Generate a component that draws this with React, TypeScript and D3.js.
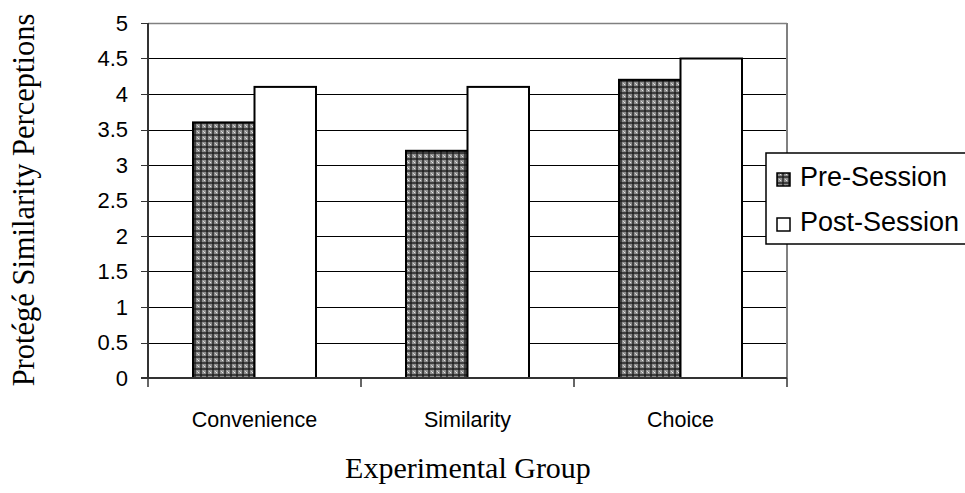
import React from "react";
import * as d3 from "d3";

const groups = ["Convenience", "Similarity", "Choice"];
const seriesNames = ["Pre-Session", "Post-Session"];
const preSession = [3.6, 3.2, 4.2];
const postSession = [4.1, 4.1, 4.5];
const yTicks = [0, 0.5, 1, 1.5, 2, 2.5, 3, 3.5, 4, 4.5, 5];

const W = 965;
const H = 493;
const plot = { left: 148, right: 787, top: 23, bottom: 378 };

export default function App() {
  const x0 = d3.scaleBand<string>().domain(groups).range([plot.left, plot.right]).paddingInner(0).paddingOuter(0);
  const y = d3.scaleLinear().domain([0, 5]).range([plot.bottom, plot.top]);
  const groupPad = 45;
  const x1 = d3
    .scaleBand<string>()
    .domain(seriesNames)
    .range([groupPad, x0.bandwidth() - groupPad])
    .padding(0);

  const values = [preSession, postSession];
  const fills = ["url(#checker)", "#ffffff"];
  const arial = "Arial, 'Liberation Sans', sans-serif";
  const times = "'Times New Roman', 'Liberation Serif', serif";

  return (
    <svg width={W} height={H} style={{ position: "absolute", left: 0, top: 0, background: "#fff" }}>
      <defs>
        <pattern id="checker" width={6} height={6} patternUnits="userSpaceOnUse">
          <rect width={6} height={6} fill="#8e8e8e" />
          <rect x={2} y={0} width={2} height={6} fill="#404040" />
          <rect x={0} y={2} width={6} height={2} fill="#404040" />
          <rect x={2} y={2} width={2} height={2} fill="#262626" />
          <rect x={0} y={0} width={1} height={1} fill="#e6e6e6" />
          <rect x={5} y={5} width={1} height={1} fill="#d0d0d0" />
        </pattern>
      </defs>

      {/* horizontal grid lines */}
      {yTicks.slice(1).map((t) => (
        <line
          key={"g" + t}
          x1={plot.left}
          x2={plot.right}
          y1={Math.round(y(t)) + 0.5}
          y2={Math.round(y(t)) + 0.5}
          stroke={t === 5 ? "#808080" : "#000"}
          strokeWidth={t === 5 ? 1.5 : 1}
        />
      ))}
      {/* right border of plot area */}
      <line x1={plot.right} x2={plot.right} y1={plot.top} y2={plot.bottom} stroke="#808080" strokeWidth={2} />

      {/* bars */}
      {groups.map((g, gi) =>
        seriesNames.map((s, si) => {
          const bx = (x0(g) as number) + (x1(s) as number);
          const by = y(values[si][gi]);
          return (
            <rect
              key={g + s}
              x={bx}
              y={by}
              width={x1.bandwidth()}
              height={plot.bottom - by}
              fill={fills[si]}
              stroke="#000"
              strokeWidth={2}
            />
          );
        })
      )}

      {/* y axis */}
      <line x1={plot.left} x2={plot.left} y1={plot.top} y2={plot.bottom} stroke="#333" strokeWidth={2} />
      {yTicks.map((t) => (
        <g key={"t" + t}>
          <line x1={plot.left - 7} x2={plot.left} y1={Math.round(y(t)) + 0.5} y2={Math.round(y(t)) + 0.5} stroke="#333" strokeWidth={1} />
          <text x={128} y={y(t)} dy="0.36em" textAnchor="end" fontFamily={arial} fontSize={22} fill="#000">
            {t}
          </text>
        </g>
      ))}

      {/* x axis */}
      <line x1={plot.left - 7} x2={plot.right} y1={plot.bottom} y2={plot.bottom} stroke="#333" strokeWidth={2} />
      {[...groups.map((g) => x0(g) as number), plot.right].map((xv, i) => (
        <line key={"xt" + i} x1={xv} x2={xv} y1={plot.bottom} y2={plot.bottom + 9} stroke="#333" strokeWidth={1.5} />
      ))}
      {groups.map((g) => (
        <text
          key={"l" + g}
          x={(x0(g) as number) + x0.bandwidth() / 2}
          y={427}
          textAnchor="middle"
          fontFamily={arial}
          fontSize={21.5}
          fill="#000"
        >
          {g}
        </text>
      ))}

      {/* axis titles */}
      <text x={468} y={478} textAnchor="middle" fontFamily={times} fontSize={30} fill="#000">
        Experimental Group
      </text>
      <text
        transform={`translate(34, 200) rotate(-90)`}
        textAnchor="middle"
        fontFamily={times}
        fontSize={30.5}
        fill="#000"
      >
        Protégé Similarity Perceptions
      </text>

      {/* legend */}
      <rect x={766} y={153} width={205} height={91} fill="#fff" stroke="#000" strokeWidth={1.5} />
      {seriesNames.map((s, i) => (
        <g key={"lg" + s}>
          <rect x={777} y={173 + i * 45} width={13} height={13} fill={fills[i]} stroke="#000" strokeWidth={1.5} />
          <text x={800} y={186 + i * 45} fontFamily={arial} fontSize={27} fill="#000">
            {s}
          </text>
        </g>
      ))}
    </svg>
  );
}
